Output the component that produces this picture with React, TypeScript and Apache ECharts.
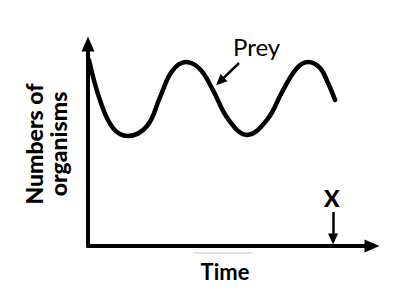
import React, { useEffect, useRef } from "react";
import * as echarts from "echarts";

// Time in arbitrary units (0-100), numbers of organisms in arbitrary units (0-100)
const preyTime = [0.35, 4.2, 8.8, 14.1, 20.8, 25.4, 29.6, 34.5, 39.4, 44.0, 49.3, 56.0, 63.0, 68.7, 73.6, 77.5, 81.7, 84.5, 87.0];
const preyCount = [92.1, 72.3, 58.4, 54.5, 59.4, 73.8, 86.6, 91.1, 87.6, 77.2, 62.9, 55.0, 62.4, 77.2, 88.1, 91.1, 88.1, 80.7, 72.3];

const xName = "Time";
const yName = "Numbers of\norganisms";
const preyLabel = "Prey";
const markerLabel = "X";

// annotation arrows [from, to] in data units
const preyArrow = [[53.2, 90.6], [46.5, 81.5]];
const xArrow = [[86.3, 16.8], [86.3, 3.5]];

const FONT = "Lato, 'Open Sans', sans-serif";

export default function App() {
  const ref = useRef<HTMLDivElement>(null);
  useEffect(() => {
    if (!ref.current) return;
    const chart = echarts.init(ref.current, null, { renderer: "svg" });
    const data = preyTime.map((t, i) => [t, preyCount[i]]);
    chart.setOption({
      animation: false,
      backgroundColor: "#ffffff",
      grid: { left: 88, right: 22, top: 44, bottom: 54 },
      xAxis: {
        type: "value",
        min: 0,
        max: 100,
        name: xName,
        nameLocation: "middle",
        nameGap: 14,
        nameTextStyle: { fontFamily: FONT, fontWeight: "bold", fontSize: 22, color: "#000", padding: [0, 10, 0, 0] },
        axisLine: { show: true, onZero: false, symbol: ["none", "triangle"], symbolSize: [13, 15], lineStyle: { color: "#000", width: 4 } },
        axisTick: { show: false },
        axisLabel: { show: false },
        splitLine: { show: false },
      },
      yAxis: {
        type: "value",
        min: 0,
        max: 100,
        name: yName,
        nameLocation: "middle",
        nameGap: 18,
        nameRotate: 90,
        nameTextStyle: { fontFamily: FONT, fontWeight: 900, fontSize: 23, color: "#000", lineHeight: 24, padding: [0, 0, 0, 2] },
        axisLine: { show: true, onZero: false, symbol: ["none", "triangle"], symbolSize: [13, 15], lineStyle: { color: "#000", width: 4 } },
        axisTick: { show: false },
        axisLabel: { show: false },
        splitLine: { show: false },
      },
      series: [
        {
          type: "line",
          data,
          smooth: 0.4,
          showSymbol: false,
          lineStyle: { color: "#000", width: 4.5, cap: "round", join: "round" },
          markLine: {
            silent: true,
            symbol: ["none", "triangle"],
            symbolSize: [10, 11],
            label: { show: false },
            lineStyle: { color: "#000", width: 2.5, type: "solid" },
            data: [
              [{ coord: preyArrow[0] }, { coord: preyArrow[1] }],
              [{ coord: xArrow[0] }, { coord: xArrow[1] }],
            ],
          },
        },
      ],
      graphic: [
        { type: "text", left: 233, top: 34, style: { text: preyLabel, font: `24px ${FONT}`, fill: "#000" } },
        { type: "text", left: 324, top: 186, style: { text: markerLabel, font: `900 23px ${FONT}`, fill: "#000" } },
        { type: "line", shape: { x1: 193, y1: 253, x2: 253, y2: 253 }, style: { stroke: "#c8c8c8", lineWidth: 1 } },
      ],
    });
    return () => chart.dispose();
  }, []);
  return <div ref={ref} style={{ width: 394, height: 300, position: "absolute", left: 0, top: 0 }} />;
}
